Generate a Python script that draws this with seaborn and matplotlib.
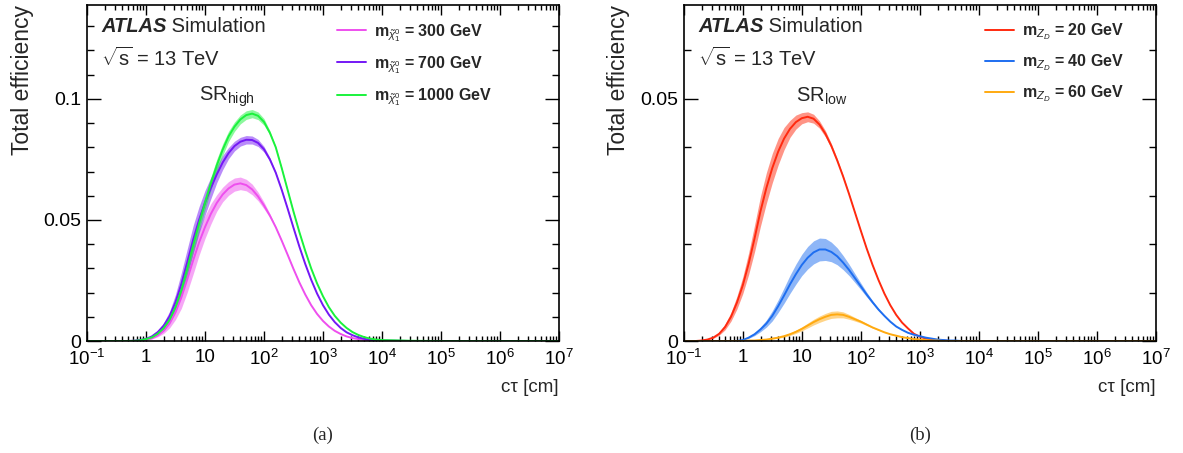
import numpy as np
import pandas as pd
import seaborn as sns
import matplotlib
matplotlib.use("Agg")
from matplotlib import pyplot as plt
from matplotlib.ticker import FixedLocator, FixedFormatter, LogLocator, NullFormatter, MultipleLocator

# ---- data: x is log10(c*tau / cm) ----
log_ctau = [-1.0, -0.9, -0.8, -0.7, -0.6, -0.5, -0.4, -0.3, -0.2, -0.1,
            0.0, 0.1, 0.2, 0.3, 0.4, 0.5, 0.6, 0.7, 0.8, 0.9,
            1.0, 1.1, 1.2, 1.3, 1.4, 1.5, 1.6, 1.7, 1.8, 1.9,
            2.0, 2.1, 2.2, 2.3, 2.4, 2.5, 2.6, 2.7, 2.8, 2.9,
            3.0, 3.1, 3.2, 3.3, 3.4, 3.5, 3.6, 3.7, 3.8, 3.9,
            4.0, 4.5, 5.0, 6.0, 7.0]

# (a) SR_high, neutralino masses
eff_300 = [0, 0, 0, 0, 0, 0, 0, 0, 0.0001, 0.0002,
           0.0005, 0.0011, 0.0023, 0.0042, 0.0072, 0.0118, 0.0180, 0.0255, 0.0333, 0.0407,
           0.0470, 0.0525, 0.0570, 0.0605, 0.0630, 0.0646, 0.0651, 0.0644, 0.0626, 0.0597,
           0.0560, 0.0518, 0.0470, 0.0415, 0.0357, 0.0298, 0.0242, 0.0192, 0.0148, 0.0112,
           0.0083, 0.0060, 0.0042, 0.0029, 0.0019, 0.0012, 0.0008, 0.0005, 0.0003, 0.0002,
           0.0001, 0, 0, 0, 0]
eff_700 = [0, 0, 0, 0, 0, 0, 0, 0, 0.0001, 0.0004,
           0.0009, 0.0019, 0.0037, 0.0063, 0.0102, 0.0160, 0.0235, 0.0325, 0.0418, 0.0500,
           0.0570, 0.0632, 0.0688, 0.0737, 0.0776, 0.0805, 0.0823, 0.0831, 0.0830, 0.0818,
           0.0792, 0.0750, 0.0695, 0.0625, 0.0548, 0.0468, 0.0390, 0.0318, 0.0253, 0.0196,
           0.0148, 0.0109, 0.0078, 0.0054, 0.0036, 0.0024, 0.0015, 0.0009, 0.0005, 0.0003,
           0.0002, 0, 0, 0, 0]
eff_1000 = [0, 0, 0, 0, 0, 0, 0, 0, 0.0001, 0.0003,
            0.0008, 0.0015, 0.0030, 0.0053, 0.0088, 0.0140, 0.0210, 0.0300, 0.0395, 0.0485,
            0.0570, 0.0650, 0.0725, 0.0790, 0.0845, 0.0885, 0.0915, 0.0933, 0.0939, 0.0930,
            0.0905, 0.0860, 0.0800, 0.0715, 0.0625, 0.0535, 0.0450, 0.0372, 0.0300, 0.0238,
            0.0185, 0.0140, 0.0104, 0.0076, 0.0054, 0.0037, 0.0025, 0.0016, 0.0010, 0.0006,
            0.0004, 0.0001, 0, 0, 0]

# (b) SR_low, dark photon masses
eff_20 = [0, 0, 0, 0.0001, 0.0003, 0.0007, 0.0015, 0.0029, 0.0050, 0.0079,
          0.0115, 0.0160, 0.0212, 0.0268, 0.0316, 0.0357, 0.0391, 0.0418, 0.0438, 0.0452,
          0.0460, 0.0463, 0.0459, 0.0447, 0.0428, 0.0403, 0.0373, 0.0340, 0.0304, 0.0266,
          0.0228, 0.0191, 0.0157, 0.0126, 0.0098, 0.0074, 0.0054, 0.0038, 0.0026, 0.0015,
          0.0009, 0.0005, 0.0003, 0.0002, 0.0001, 0, 0, 0, 0, 0,
          0, 0, 0, 0, 0]
eff_40 = [0, 0, 0, 0, 0, 0, 0, 0, 0, 0,
          0.0002, 0.0007, 0.0014, 0.0024, 0.0036, 0.0052, 0.0072, 0.0094, 0.0117, 0.0138,
          0.0157, 0.0172, 0.0183, 0.0189, 0.0189, 0.0184, 0.0175, 0.0162, 0.0147, 0.0130,
          0.0113, 0.0096, 0.0080, 0.0065, 0.0052, 0.0040, 0.0030, 0.0023, 0.0017, 0.0013,
          0.0010, 0.0007, 0.0005, 0.0003, 0.0002, 0.0001, 0.0001, 0, 0, 0,
          0, 0, 0, 0, 0]
eff_60 = [0, 0, 0, 0, 0, 0, 0, 0, 0, 0,
          0, 0.0001, 0.0001, 0.0002, 0.0003, 0.0005, 0.0007, 0.0010, 0.0014, 0.0019,
          0.0025, 0.0032, 0.0039, 0.0045, 0.0050, 0.0054, 0.0055, 0.0054, 0.0050, 0.0045,
          0.0040, 0.0034, 0.0028, 0.0023, 0.0018, 0.0014, 0.0011, 0.0008, 0.0006, 0.0004,
          0.0003, 0.0002, 0.0001, 0.0001, 0, 0, 0, 0, 0, 0,
          0, 0, 0, 0, 0]

# relative half-width of the uncertainty bands
rel_300 = [0.25] * 17 + [0.21, 0.17, 0.13, 0.10, 0.08, 0.06, 0.05, 0.045, 0.042, 0.04,
                         0.037, 0.035, 0.03, 0.025, 0.015] + [0.006] * 23
rel_700 = [0.2] * 17 + [0.17, 0.14, 0.11, 0.09, 0.07, 0.05, 0.04, 0.03, 0.025, 0.022,
                        0.021, 0.02, 0.018, 0.015, 0.01] + [0.005] * 23
rel_1000 = [0.1] * 17 + [0.085, 0.07, 0.06, 0.05, 0.042, 0.035, 0.03, 0.025, 0.022, 0.02,
                         0.019, 0.018, 0.017, 0.015, 0.01] + [0.004] * 23
rel_20 = [0.2] * 8 + [0.18, 0.165, 0.15, 0.14, 0.13, 0.115, 0.1, 0.085, 0.07, 0.055,
                      0.04, 0.032, 0.025, 0.022, 0.02, 0.017, 0.015, 0.012, 0.01, 0.007] + [0.004] * 27
rel_40 = [0.2] * 16 + [0.18, 0.17, 0.16, 0.15, 0.14, 0.135, 0.13, 0.125, 0.12, 0.11,
                       0.10, 0.09, 0.08, 0.07, 0.06, 0.05, 0.04, 0.035, 0.03, 0.025] + [0.02] * 19
rel_60 = [0.2] * 18 + [0.18, 0.17, 0.16, 0.155, 0.15, 0.145, 0.14, 0.135, 0.13, 0.115,
                       0.1, 0.085, 0.07, 0.06, 0.05, 0.04] + [0.03] * 21

labels_a = [r"$\mathbf{m}_{\tilde{\chi}^{0}_{1}}$ = 300 GeV",
            r"$\mathbf{m}_{\tilde{\chi}^{0}_{1}}$ = 700 GeV",
            r"$\mathbf{m}_{\tilde{\chi}^{0}_{1}}$ = 1000 GeV"]
labels_b = [r"$\mathbf{m}_{Z_{D}}$ = 20 GeV",
            r"$\mathbf{m}_{Z_{D}}$ = 40 GeV",
            r"$\mathbf{m}_{Z_{D}}$ = 60 GeV"]
colors_a = ["#EE4FEE", "#7418F5", "#1AF23C"]
colors_b = ["#FF2A0F", "#1E6EF0", "#FFAA10"]

xtick_vals = [0.1, 1, 10, 100, 1e3, 1e4, 1e5, 1e6, 1e7]
xtick_labels = [r"$10^{-1}$", "1", "10", r"$10^{2}$", r"$10^{3}$", r"$10^{4}$",
                r"$10^{5}$", r"$10^{6}$", r"$10^{7}$"]


def make_frame(effs, rels, labels):
    rows = []
    for eff, rel, lab in zip(effs, rels, labels):
        assert len(eff) == len(log_ctau) and len(rel) == len(log_ctau)
        eff = np.array(eff)
        rel = np.array(rel)
        rows.append(pd.DataFrame({"ctau": 10.0 ** np.array(log_ctau), "eff": eff,
                                  "lo": eff * (1 - rel), "hi": eff * (1 + rel), "label": lab}))
    return pd.concat(rows, ignore_index=True)


sns.set_style("ticks")
plt.rcParams["font.family"] = ["Liberation Sans", "DejaVu Sans"]
plt.rcParams["mathtext.fontset"] = "custom"
plt.rcParams["mathtext.rm"] = "Liberation Sans"
plt.rcParams["mathtext.it"] = "Liberation Sans:italic"
plt.rcParams["mathtext.bf"] = "Liberation Sans:bold"

fig = plt.figure(figsize=(11.83, 4.53), dpi=100)
ax_a = fig.add_axes([0.0735, 0.2472, 0.399, 0.742])
ax_b = fig.add_axes([0.578, 0.2472, 0.399, 0.742])

panels = [
    (ax_a, make_frame([eff_300, eff_700, eff_1000], [rel_300, rel_700, rel_1000], labels_a),
     labels_a, colors_a, 0.1388, [0, 0.05, 0.1], ["0", "0.05", "0.1"], r"SR$_{\mathrm{high}}$", 0.297, 0.53, "(a)"),
    (ax_b, make_frame([eff_20, eff_40, eff_60], [rel_20, rel_40, rel_60], labels_b),
     labels_b, colors_b, 0.0694, [0, 0.05], ["0", "0.05"], r"SR$_{\mathrm{low}}$", 0.292, 0.638, "(b)"),
]

for ax, df, labels, colors, ytop, yt, ytl, sr, srx, legx, cap in panels:
    for lab, col in zip(labels, colors):
        sub = df[df["label"] == lab]
        ax.fill_between(sub["ctau"], sub["lo"], sub["hi"], color=col, alpha=0.5, linewidth=0, zorder=1)
    sns.lineplot(data=df, x="ctau", y="eff", hue="label", hue_order=labels,
                 palette=dict(zip(labels, colors)), linewidth=1.4, ax=ax, zorder=2)
    ax.set_xscale("log")
    ax.set_xlim(0.1, 1e7)
    ax.set_ylim(0, ytop)

    ax.xaxis.set_major_locator(FixedLocator(xtick_vals))
    ax.xaxis.set_major_formatter(FixedFormatter(xtick_labels))
    ax.xaxis.set_minor_locator(LogLocator(base=10, subs=np.arange(2, 10), numticks=20))
    ax.xaxis.set_minor_formatter(NullFormatter())
    ax.yaxis.set_major_locator(FixedLocator(yt))
    ax.yaxis.set_major_formatter(FixedFormatter(ytl))
    ax.yaxis.set_minor_locator(MultipleLocator(0.01))
    ax.tick_params(which="both", direction="in", top=True, right=True, width=1, colors="black")
    ax.tick_params(axis="x", which="major", length=7, pad=6, labelsize=13.5)
    ax.tick_params(axis="x", which="minor", length=3.5)
    ax.tick_params(axis="y", which="major", length=10, pad=4, labelsize=14)
    ax.tick_params(axis="y", which="minor", length=5)
    for s in ax.spines.values():
        s.set_linewidth(1.2)
        s.set_color("black")

    ax.set_xlabel("c\u03c4 [cm]", fontsize=13.5, loc="right", labelpad=7)
    ax.set_ylabel("Total efficiency", fontsize=16.5, loc="top", labelpad=7)

    atl = ax.text(0.03, 0.935, "ATLAS", transform=ax.transAxes, fontsize=14.5,
                  fontweight="bold", style="italic", va="center")
    ax.annotate(" Simulation", xy=(1, 0), xycoords=atl, va="bottom", fontsize=14.5)
    ax.text(0.03, 0.842, r"$\sqrt{\mathrm{s}}$ = 13 TeV", transform=ax.transAxes, fontsize=14.5, va="center")
    ax.text(srx, 0.728, sr, transform=ax.transAxes, fontsize=14.5, ha="center", va="center")

    h, l = ax.get_legend_handles_labels()
    ax.legend(h, l, loc="upper left", bbox_to_anchor=(legx, 0.95), frameon=False,
              prop={"weight": "bold", "size": 11.5}, handlelength=1.8, handletextpad=0.5,
              labelspacing=0.65, borderpad=0, borderaxespad=0)

    ax.text(0.5, -0.28, cap, transform=ax.transAxes, fontsize=13.5, ha="center", va="center",
            family=["Liberation Serif", "DejaVu Serif"])

fig.savefig("out.png", dpi=100)
